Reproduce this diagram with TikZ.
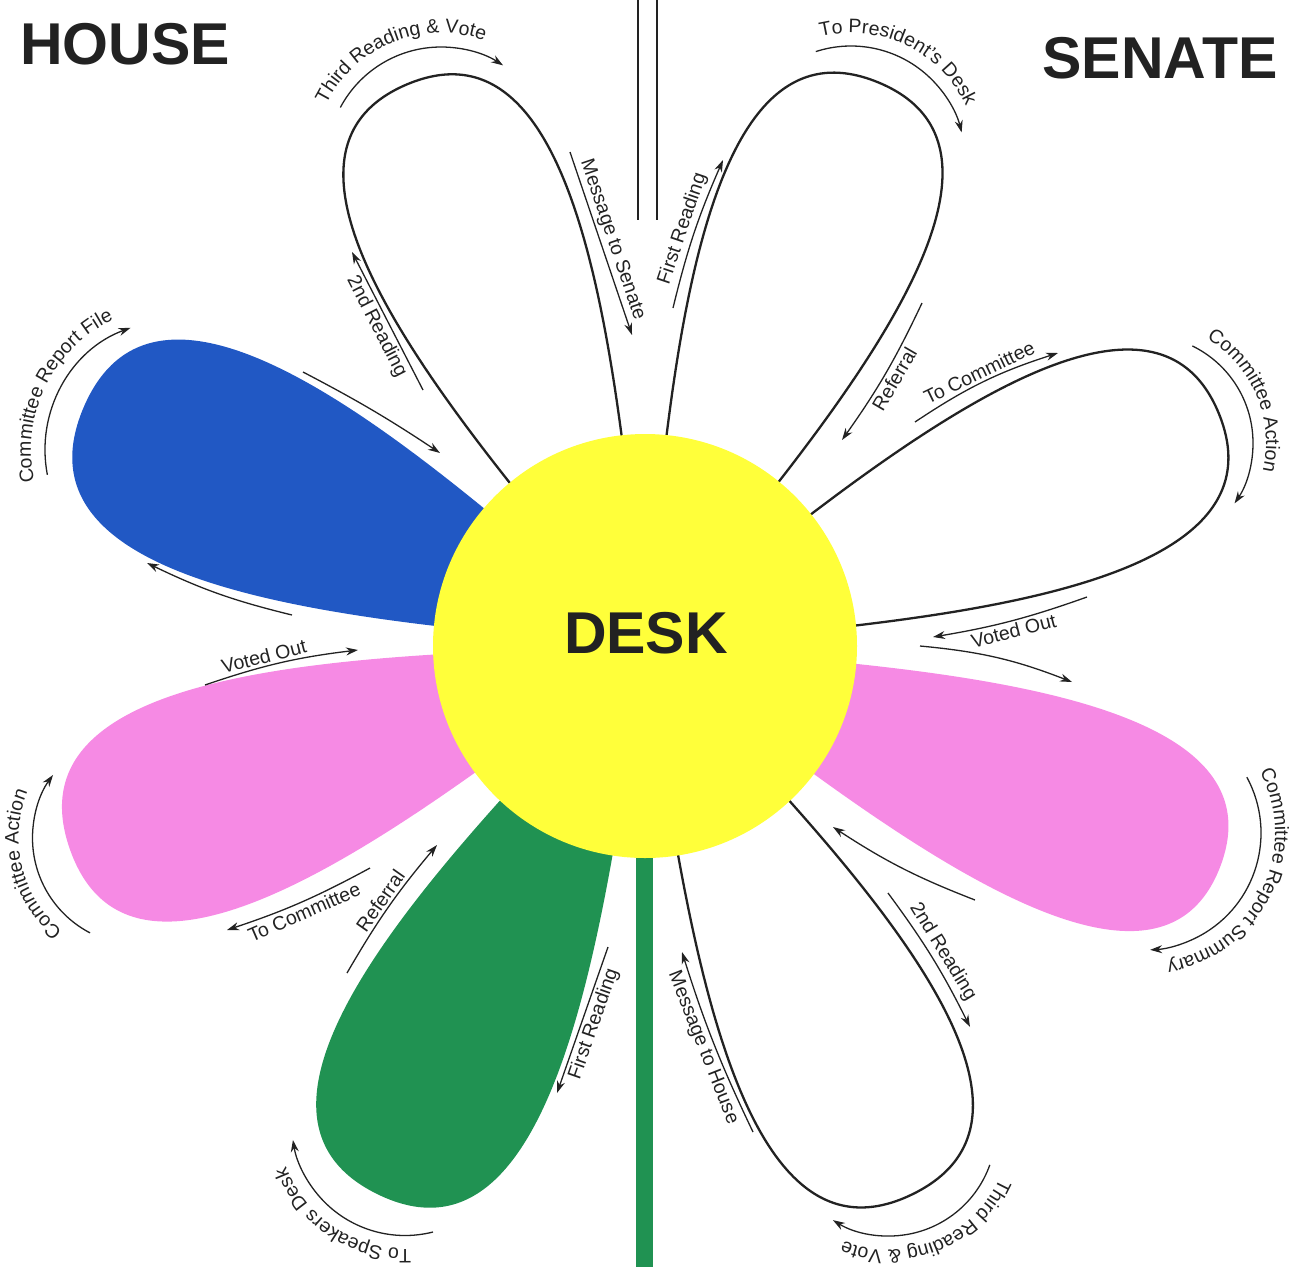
\documentclass[tikz,border=0pt]{standalone}
\usepackage{fontspec}
\setmainfont{Liberation Sans}
\usetikzlibrary{arrows.meta,decorations.text}

\definecolor{petalblue}{RGB}{33,88,196}
\definecolor{petalpink}{RGB}{246,138,228}
\definecolor{petalgreen}{RGB}{32,146,82}
\definecolor{deskyellow}{RGB}{255,255,58}
\definecolor{ink}{RGB}{34,34,34}

\newcommand\lblfont{\fontsize{19.5}{21}\selectfont}
\newcommand\petalpath{(0,0) .. controls (250,-85) and (610,-220) .. (610,0) .. controls (610,220) and (250,85) .. (0,0) -- cycle}

\begin{document}
\begin{tikzpicture}[x=1pt,y=1pt,>={Stealth[length=12pt,width=8pt]},
  flow/.style={->,line width=1.3pt,draw=ink},
  rim/.style={line width=2.3pt,draw=ink,fill=white},
  lbl/.style={font=\lblfont,text=ink,inner sep=2.5pt},
  title/.style={font=\fontsize{59}{60}\selectfont\bfseries,text=ink}]
  \useasboundingbox (0,0) rectangle (1290,-1267);
  \coordinate (ctr) at (645,-646);

  % stems
  \draw[line width=2.3pt,draw=ink] (638,0) -- (638,-220) (657,0) -- (657,-220);
  \fill[petalgreen] (636,-800) rectangle (653,-1267);

  % petals
  \fill[petalblue,shift={(ctr)},rotate=157,yscale=0.95] \petalpath;
  \fill[petalpink,shift={(ctr)},rotate=199.5,yscale=0.93] \petalpath;
  \fill[petalgreen,shift={(ctr)},rotate=244,yscale=0.93] \petalpath;
  \fill[petalpink,shift={(ctr)},rotate=-21,xscale=1.01,yscale=0.88] \petalpath;
  \filldraw[rim,shift={(ctr)},rotate=113,yscale=0.9] \petalpath;
  \filldraw[rim,shift={(ctr)},rotate=67.5,yscale=0.9] \petalpath;
  \filldraw[rim,shift={(ctr)},rotate=22,xscale=1.015,yscale=0.9] \petalpath;
  \filldraw[rim,shift={(ctr)},rotate=-64,yscale=0.92] \petalpath;

  % centre
  \node[circle,fill=deskyellow,minimum size=424pt,inner sep=0pt] (desk) at (ctr) {};
  \node[title] (desklbl) at (646,-633) {DESK};
  \node[title] (house) at (125,-44) {HOUSE};
  \node[title] (senate) at (1160,-58) {SENATE};

  % arrows round the petal tips
  \coordinate (tlc) at (441,-161);
  \draw[flow] ([shift={(152:114)}]tlc) arc[start angle=152,end angle=57,radius=114];
  \path[decorate,decoration={text along path,text align=center,
    text={|\lblfont\color{ink}|Third Reading {\&} Vote}}]
    ([shift={(192:128)}]tlc) arc[start angle=192,end angle=32,radius=128];

  \coordinate (trc) at (851,-160);
  \draw[flow] ([shift={(108:114)}]trc) arc[start angle=108,end angle=14,radius=114];
  \path[decorate,decoration={text along path,text align=center,
    text={|\lblfont\color{ink}|To President's Desk}}]
    ([shift={(144.5:127)}]trc) arc[start angle=144.5,end angle=-15.5,radius=127];

  \coordinate (rc) at (1145,-443);
  \draw[flow] ([shift={(64:108)}]rc) arc[start angle=64,end angle=-34,radius=108];
  \path[decorate,decoration={text along path,text align=center,
    text={|\lblfont\color{ink}|Committee Action}}]
    ([shift={(103:121)}]rc) arc[start angle=103,end angle=-57,radius=121];

  \coordinate (prc) at (1144,-833);
  \draw[flow] ([shift={(28.5:117)}]prc) arc[start angle=28.5,end angle=-87,radius=117];
  \path[decorate,decoration={text along path,text align=center,
    text={|\lblfont\color{ink}|Committee Report Summary}}]
    ([shift={(54:131)}]prc) arc[start angle=54,end angle=-106,radius=131];

  \coordinate (brc) at (889,-1129);
  \draw[flow] ([shift={(-19.6:107)}]brc) arc[start angle=-19.6,end angle=-121.6,radius=107];
  \path[decorate,decoration={text along path,text align=center,
    text={|\lblfont\color{ink}|Third Reading {\&} Vote}}]
    ([shift={(12:121)}]brc) arc[start angle=12,end angle=-148,radius=121];

  \coordinate (gc) at (405,-1122);
  \draw[flow] ([shift={(284.3:113.5)}]gc) arc[start angle=284.3,end angle=189.1,radius=113.5];
  \path[decorate,decoration={text along path,text align=center,
    text={|\lblfont\color{ink}|To Speakers Desk}}]
    ([shift={(316.6:127)}]gc) arc[start angle=316.6,end angle=156.6,radius=127];

  \coordinate (plc) at (139.5,-838);
  \draw[flow] ([shift={(242.5:107)}]plc) arc[start angle=242.5,end angle=143.9,radius=107];
  \path[decorate,decoration={text along path,text align=center,
    text={|\lblfont\color{ink}|Committee Action}}]
    ([shift={(274:121)}]plc) arc[start angle=274,end angle=114,radius=121];

  \coordinate (bc) at (175,-450);
  \draw[flow] ([shift={(191:130)}]bc) arc[start angle=191,end angle=110,radius=130];
  \path[decorate,decoration={text along path,text align=center,
    text={|\lblfont\color{ink}|Committee Report File}}]
    ([shift={(234:144)}]bc) arc[start angle=234,end angle=74,radius=144];

  % arrows along the petal sides, House
  \draw[flow] (423,-390) -- node[lbl,sloped,below] (hsecond) {2nd Reading} (352,-252);
  \draw[flow] (570,-152) -- node[lbl,sloped,above] (hmsg) {Message to Senate} (632,-335);
  \draw[flow] (303,-372) to[bend left=3] (440,-453);
  \draw[flow] (292,-615) to[bend left=6] (147,-563);
  \draw[flow] (205,-685) to[bend left=6] node[lbl,sloped,above,pos=0.4] (hvoted) {Voted Out} (358,-650);
  \draw[flow] (370,-868) to[bend left=5] node[lbl,sloped,below] (hcomm) {To Committee} (227,-930);
  \draw[flow] (347,-973) to[bend left=5] node[lbl,sloped,above] (hrefer) {Referral} (437,-845);
  \draw[flow] (608,-947) -- node[lbl,sloped,below] (hfirst) {First Reading} (557,-1093);

  % arrows along the petal sides, Senate
  \draw[flow] (673,-308) to[bend left=5] node[lbl,sloped,above] (sfirst) {First Reading} (723,-160);
  \draw[flow] (922,-303) to[bend left=5] node[lbl,sloped,below] (srefer) {Referral} (842,-440);
  \draw[flow] (915,-422) to[bend left=8] node[lbl,sloped,above] (scomm) {To Committee} (1058,-353);
  \draw[flow] (1087,-597) to[bend left=5] node[lbl,sloped,below] (svoted) {Voted Out} (933,-637);
  \draw[flow] (920,-646) to[bend left=8] (1072,-682);
  \draw[flow] (975,-900) to[bend left=6] (833,-827);
  \draw[flow] (888,-893) to[bend left=5] node[lbl,sloped,above] (ssecond) {2nd Reading} (970,-1027);
  \draw[flow] (753,-1132) to[bend left=4] node[lbl,sloped,below] (smsg) {Message to House} (682,-952);
\end{tikzpicture}
\end{document}
